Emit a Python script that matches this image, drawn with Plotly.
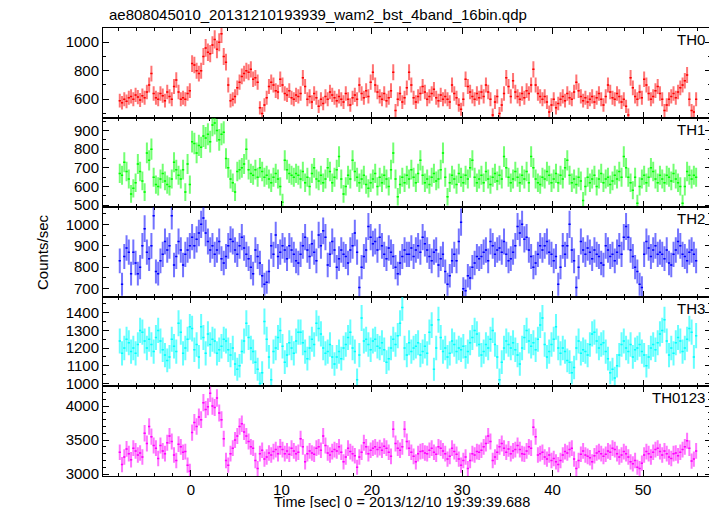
import numpy as np
import plotly.graph_objects as go
from plotly.subplots import make_subplots

# time bins: 0.25 s (16 x 1/64 s), from -8 s to 56 s
bin_width = 0.25
t_start = -8.0

th0 = [
    590, 575, 600, 585, 610, 620, 600, 630, 615, 595, 625, 610, 650, 700, 780, 640,
    610, 600, 640, 625, 590, 650, 620, 600, 690, 735, 650, 600, 610, 600, 640, 660,
    850, 840, 800, 780, 800, 900, 960, 930, 920, 980, 1020, 950, 1000, 1060, 900, 860,
    700, 590, 600, 620, 680, 720, 760, 780, 800, 790, 810, 740, 750, 720, 540, 500,
    560, 610, 690, 720, 700, 660, 650, 740, 700, 640, 630, 660, 610, 600, 630, 620,
    640, 750, 690, 600, 620, 580, 640, 610, 550, 600, 570, 620, 600, 650, 630, 610,
    590, 620, 600, 580, 640, 600, 560, 610, 630, 600, 700, 640, 610, 660, 620, 720,
    790, 700, 650, 620, 600, 640, 590, 610, 660, 790, 520, 600, 640, 580, 610, 680,
    790, 700, 610, 580, 620, 640, 690, 650, 600, 620, 640, 670, 610, 590, 630, 600,
    620, 600, 580, 700, 640, 610, 560, 530, 600, 740, 690, 650, 620, 600, 640, 610,
    650, 620, 700, 650, 600, 490, 580, 620, 500, 560, 640, 750, 690, 620, 730, 650,
    620, 600, 640, 610, 660, 640, 700, 810, 700, 640, 620, 600, 620, 580, 510, 560,
    600, 540, 570, 600, 620, 590, 640, 610, 600, 650, 720, 660, 620, 590, 610, 580,
    600, 620, 580, 610, 640, 600, 560, 620, 700, 650, 610, 600, 640, 620, 580, 600,
    550, 490, 750, 680, 620, 600, 650, 610, 740, 700, 640, 600, 620, 660, 690, 640,
    600, 520, 560, 600, 620, 640, 610, 650, 680, 700, 730, 770, 600, 520, 510, 600,
]

th1 = [
    670, 660, 730, 680, 640, 560, 590, 620, 720, 680, 630, 570, 780, 740, 800, 650,
    610, 600, 640, 670, 630, 610, 600, 640, 730, 690, 660, 640, 690, 570, 720, 610,
    840, 830, 780, 820, 810, 870, 860, 880, 840, 930, 940, 900, 850, 880, 890, 750,
    700, 640, 620, 570, 680, 690, 700, 720, 800, 690, 670, 660, 690, 650, 700, 680,
    650, 660, 640, 620, 650, 670, 640, 600, 515, 740, 690, 670, 660, 650, 670, 660,
    640, 680, 620, 650, 600, 670, 700, 640, 630, 660, 620, 640, 700, 680, 620, 650,
    690, 760, 640, 560, 600, 660, 640, 740, 680, 650, 620, 640, 660, 610, 590, 620,
    640, 670, 600, 650, 620, 660, 640, 600, 690, 780, 640, 545, 610, 650, 620, 660,
    640, 690, 650, 620, 670, 740, 660, 620, 640, 610, 650, 670, 630, 640, 690, 780,
    650, 545, 620, 660, 640, 610, 670, 650, 620, 660, 640, 700, 740, 650, 620, 640,
    660, 620, 680, 640, 610, 650, 670, 630, 660, 640, 760, 700, 650, 620, 640, 680,
    650, 620, 660, 640, 680, 620, 760, 700, 640, 620, 610, 650, 640, 680, 660, 620,
    640, 670, 620, 660, 640, 700, 740, 660, 620, 640, 610, 650, 630, 525, 600, 650,
    620, 640, 660, 600, 640, 670, 620, 640, 650, 610, 630, 660, 640, 680, 650, 760,
    700, 650, 620, 580, 650, 510, 600, 640, 660, 620, 650, 700, 680, 640, 620, 660,
    640, 620, 660, 650, 630, 670, 640, 620, 600, 510, 600, 680, 660, 640, 660, 650,
]

th2 = [
    830, 720, 850, 890, 870, 770, 870, 820, 770, 800, 900, 980, 870, 840, 900, 1040,
    780, 770, 830, 860, 920, 880, 900, 1040, 810, 850, 920, 880, 810, 860, 880, 900,
    940, 900, 930, 960, 1000, 1030, 960, 920, 880, 900, 860, 880, 920, 840, 820, 850,
    900, 930, 920, 880, 860, 900, 940, 890, 860, 840, 800, 770, 880, 850, 820, 760,
    720, 730, 780, 900, 860, 950, 850, 870, 900, 880, 840, 900, 880, 860, 830, 820,
    860, 900, 940, 880, 850, 910, 870, 830, 950, 900, 970, 940, 810, 860, 920, 880,
    800, 840, 880, 860, 850, 820, 880, 900, 960, 870, 705, 800, 850, 880, 990, 940,
    910, 920, 880, 940, 900, 860, 840, 890, 870, 850, 800, 770, 820, 850, 880, 860,
    860, 890, 850, 880, 900, 870, 940, 910, 880, 850, 830, 870, 880, 810, 840, 860,
    780, 720, 760, 830, 860, 830, 920, 1010, 700, 690, 760, 750, 800, 820, 850, 840,
    850, 870, 880, 830, 920, 900, 860, 880, 890, 870, 920, 860, 830, 840, 870, 900,
    990, 960, 1000, 930, 940, 880, 850, 800, 820, 860, 900, 880, 900, 920, 870, 860,
    830, 850, 720, 800, 900, 860, 900, 1000, 880, 830, 705, 800, 920, 880, 860, 890,
    870, 840, 880, 860, 850, 820, 810, 900, 880, 850, 860, 830, 870, 900, 860, 940,
    990, 940, 880, 850, 800, 780, 720, 705, 860, 920, 890, 850, 880, 900, 860, 870,
    860, 840, 880, 820, 810, 860, 880, 920, 900, 860, 850, 830, 870, 880, 860, 830,
]

th3 = [
    1240, 1170, 1200, 1250, 1230, 1180, 1200, 1170, 1220, 1300, 1290, 1240, 1200, 1250, 1220, 1180,
    1260, 1300, 1240, 1190, 1160, 1130, 1150, 1250, 1210, 1180, 1340, 1290, 1170, 1200, 1250, 1320,
    1310, 1190, 1220, 1150, 1320, 1260, 1170, 1280, 1220, 1250, 1240, 1170, 1190, 1210, 1250, 1240,
    1190, 1160, 1200, 1110, 1080, 1100, 1180, 1240, 1340, 1260, 1200, 1180, 1120, 1080, 1000, 1060,
    1350, 1250, 1150, 1020, 1180, 1200, 1260, 1300, 1210, 1120, 1160, 1230, 1200, 1170, 1240, 1290,
    1290, 1230, 1180, 1140, 1200, 1250, 1220, 1340, 1310, 1280, 1200, 1170, 1180, 1220, 1150, 1110,
    1150, 1180, 1140, 1200, 1220, 1260, 1290, 1200, 1180, 1020, 1160, 1370, 1240, 1250, 1220, 1190,
    1240, 1250, 1210, 1200, 1230, 1190, 1120, 1140, 1200, 1250, 1220, 1270, 1340, 1430, 1200, 1160,
    1230, 1180, 1200, 1210, 1230, 1160, 1180, 1210, 1170, 1290, 1330, 1080, 1200, 1360, 1260, 1180,
    1200, 1150, 1170, 1240, 1220, 1180, 1200, 1190, 1210, 1150, 1180, 1230, 1260, 1300, 1280, 1220,
    1160, 1180, 1220, 1200, 1250, 1300, 1220, 1150, 1020, 1120, 1200, 1240, 1220, 1200, 1230, 1190,
    1160, 1110, 1200, 1260, 1300, 1240, 1210, 1230, 1190, 1250, 1330, 1370, 1220, 1150, 1180, 1220,
    1250, 1320, 1200, 1170, 1200, 1180, 1130, 1120, 1060, 1090, 1200, 1240, 1170, 1190, 1180, 1160,
    1220, 1280, 1290, 1240, 1200, 1220, 1230, 1180, 1140, 1060, 1080, 1030, 1100, 1160, 1220, 1240,
    1200, 1180, 1220, 1150, 1190, 1200, 1220, 1180, 1160, 1100, 1150, 1200, 1220, 1190, 1230, 1280,
    1300, 1360, 1240, 1160, 1200, 1170, 1230, 1260, 1240, 1180, 1200, 1250, 1310, 1290, 1150, 1270,
]

th0123 = [
    3320, 3140, 3250, 3370, 3300, 3210, 3380, 3340, 3280, 3310, 3250, 3600, 3450, 3700, 3550, 3420,
    3380, 3230, 3420, 3340, 3300, 3460, 3560, 3480, 3280, 3200, 3440, 3400, 3320, 3330, 3130, 3040,
    3610, 3760, 3700, 3840, 3800, 4050, 3950, 3990, 4190, 4000, 3980, 4120, 3900, 3800, 3520, 3200,
    3130, 3300, 3380, 3500, 3560, 3700, 3740, 3620, 3560, 3480, 3400, 3380, 3200, 3080, 3300, 3350,
    3220, 3250, 3310, 3280, 3330, 3360, 3300, 3400, 3360, 3300, 3340, 3290, 3380, 3340, 3300, 3320,
    3520, 3400, 3180, 3300, 3340, 3310, 3290, 3380, 3400, 3350, 3560, 3420, 3310, 3280, 3330, 3360,
    3340, 3400, 3320, 3180, 3250, 3380, 3330, 3300, 3270, 3100, 3250, 3320, 3460, 3400, 3300, 3350,
    3380, 3400, 3360, 3390, 3350, 3410, 3380, 3320, 3260, 3660, 3450, 3380, 3350, 3400, 3660, 3480,
    3380, 3320, 3260, 3180, 3300, 3330, 3340, 3310, 3300, 3350, 3380, 3320, 3290, 3400, 3380, 3340,
    3300, 3220, 3260, 3380, 3330, 3290, 3220, 3130, 3200, 3250, 3080, 3200, 3300, 3280, 3330, 3320,
    3350, 3400, 3450, 3560, 3480, 3200, 3250, 3320, 3400, 3450, 3380, 3320, 3370, 3300, 3340, 3360,
    3420, 3360, 3300, 3290, 3340, 3400, 3380, 3690, 3550, 3280, 3300, 3320, 3250, 3220, 3280, 3200,
    3230, 3180, 3140, 3200, 3280, 3330, 3310, 3360, 3380, 3220, 3080, 3200, 3290, 3340, 3280, 3260,
    3240, 3180, 3270, 3310, 3330, 3300, 3260, 3290, 3340, 3320, 3380, 3360, 3300, 3250, 3280, 3330,
    3300, 3250, 3180, 3150, 3200, 3100, 3080, 3160, 3280, 3330, 3300, 3250, 3320, 3360, 3380, 3330,
    3280, 3340, 3300, 3250, 3230, 3300, 3310, 3270, 3320, 3360, 3400, 3490, 3380, 3190, 3220, 3340,
]

labels = ["TH0", "TH1", "TH2", "TH3", "TH0123"]
series = [th0, th1, th2, th3, th0123]
colors = ["#ff0000", "#00ff00", "#0000ff", "#00ffff", "#ff00ff"]
err_colors = ["rgba(255,0,0,0.55)", "rgba(0,255,0,0.55)", "rgba(0,0,255,0.55)",
              "rgba(0,255,255,0.6)", "rgba(255,0,255,0.55)"]
y_ranges = [[471, 1100], [489, 969], [662, 1080], [983, 1490], [2971, 4290]]
y_dticks = [200, 100, 100, 100, 500]
y_minor = [100, 50, 50, 50, 100]

t = t_start + bin_width * (np.arange(len(th0)) + 0.5)

fig = make_subplots(rows=5, cols=1, shared_xaxes=True, vertical_spacing=0)

for i, (lab, vals, col) in enumerate(zip(labels, series, colors)):
    v = np.array(vals, dtype=float)
    err = np.sqrt(v * bin_width) / bin_width  # Poisson error of a 0.25 s bin
    fig.add_trace(go.Scatter(
        x=t, y=v, mode="markers",
        marker=dict(size=1, color=col),
        error_y=dict(type="data", array=err, visible=True, thickness=2, width=0, color=err_colors[i]),
        error_x=dict(type="constant", value=bin_width / 2, visible=True, thickness=1.5, width=0, color=col),
        showlegend=False, name=lab,
    ), row=i + 1, col=1)

font = dict(family="Liberation Sans, Arial, sans-serif", size=15, color="black")

for i in range(5):
    fig.update_yaxes(
        range=y_ranges[i], dtick=y_dticks[i], ticks="inside", ticklen=6,
        mirror="ticks", showline=True, linecolor="black", linewidth=1,
        showgrid=False, zeroline=False, tickfont=font, tickcolor="black",
        minor=dict(dtick=y_minor[i], ticks="inside", ticklen=3, tickcolor="black"),
        row=i + 1, col=1,
    )
    fig.update_xaxes(
        range=[-9.73, 57.52], dtick=10, ticks="inside", ticklen=6,
        mirror="ticks", showline=True, linecolor="black", linewidth=1,
        showgrid=False, zeroline=False, tickfont=font, tickcolor="black",
        minor=dict(dtick=2, ticks="inside", ticklen=3, tickcolor="black"),
        showticklabels=(i == 4),
        row=i + 1, col=1,
    )

# page body has an 8 px margin: place the figure so the plot area sits at 103..711 x 28..476
plot_h = 448.0
plot_w = 608.0
annotations = []
for i, lab in enumerate(labels):
    top = 1.0 - 0.2 * i
    annotations.append(dict(
        text=lab, x=1.0, y=top, xref="paper", yref="paper",
        xanchor="right", yanchor="top", showarrow=False, font=font, xshift=-4, yshift=-1,
    ))
annotations.append(dict(
    text="ae808045010_20131210193939_wam2_bst_4band_16bin.qdp",
    x=(107 - 103) / plot_w, y=1 + (28 - 15) / plot_h, xref="paper", yref="paper",
    xanchor="left", yanchor="middle", showarrow=False, font=font,
))
annotations.append(dict(
    text="Counts/sec", x=(42 - 103) / plot_w, y=0.5, xref="paper", yref="paper",
    xanchor="center", yanchor="middle", textangle=-90, showarrow=False, font=font,
))
annotations.append(dict(
    text="Time [sec] 0 = 2013/12/10 19:39:39.688",
    x=(402 - 103) / plot_w, y=-(502 - 476) / plot_h, xref="paper", yref="paper",
    xanchor="center", yanchor="middle", showarrow=False,
    font=dict(family="Liberation Sans, Arial, sans-serif", size=14.5, color="black"),
))

fig.update_layout(
    width=705, height=500,
    margin=dict(l=95, r=2, t=20, b=32),
    paper_bgcolor="white", plot_bgcolor="white",
    annotations=annotations, font=font,
)

fig.write_html("out.html")
